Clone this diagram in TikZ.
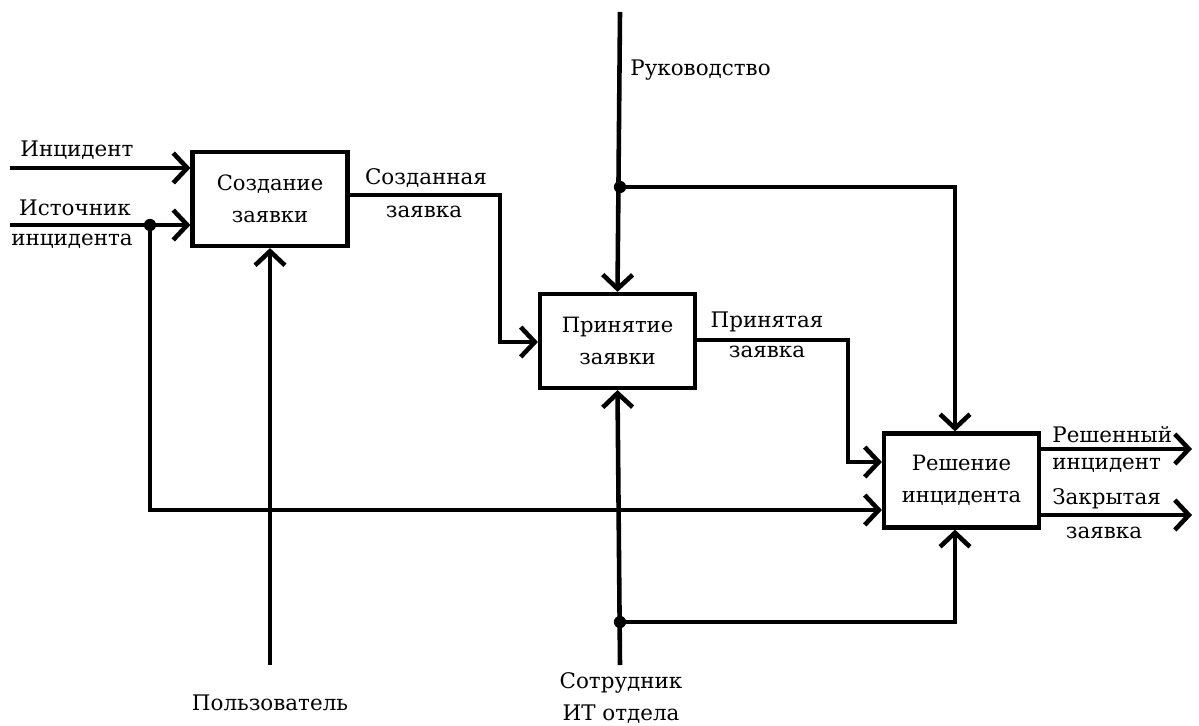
\documentclass[tikz,border=0pt]{standalone}
\usepackage{fontspec}
\setmainfont{DejaVu Serif}
\usetikzlibrary{arrows.meta}
\begin{document}
\begin{tikzpicture}[x=0.02cm,y=-0.02cm,
  box/.style={draw,line width=2.4pt,minimum width=3.1cm,minimum height=1.88cm,align=center,inner sep=0pt,font=\fontsize{12}{18}\selectfont},
  lbl/.style={inner sep=0pt,font=\fontsize{12.2}{17}\selectfont},
  conn/.style={line width=2.6pt},
  arr/.style={conn,-{Straight Barb[length=8pt,width=17pt]}},
  dot/.style={circle,fill,inner sep=0pt,minimum size=7pt}]
\useasboundingbox (0,0) rectangle (1199,726);
% boxes
\node[box] (b1) at (270,199) {Создание\\заявки};
\node[box] (b2) at (617.5,341) {Принятие\\заявки};
\node[box] (b3) at (961.5,480.5) {Решение\\инцидента};
% free ends
\coordinate (inc) at (10,168);
\coordinate (src) at (10,225);
\coordinate (usr) at (270,665);
\coordinate (mgmt) at (620,12);
\coordinate (staff) at (620,665);
\coordinate (o1) at (1192,449);
\coordinate (o2) at (1192,515);
% junctions
\node[dot] (j1) at (150,225) {};
\node[dot] (j2) at (620,187) {};
\node[dot] (j3) at (620,622) {};
% connectors
\draw[arr] (inc) -- (inc -| b1.west);
\draw[arr] (src) -- (src -| b1.west);
\draw[arr] (j1.center) -- (150,510) -- (b3.west |- 0,510);
\draw[arr] (usr) -- (b1.south);
\draw[arr] (b1.east |- 0,195) -- (500,195) -- (500,342) -- (b2.west |- 0,342);
\draw[arr] (mgmt) -- (b2.north);
\draw[arr] (j2.center) -- (955,187) -- (b3.north -| 955,0);
\draw[arr] (b2.east |- 0,340) -- (848,340) -- (848,462) -- (b3.west |- 0,462);
\draw[arr] (staff) -- (b2.south);
\draw[arr] (j3.center) -- (955,622) -- (b3.south -| 955,0);
\draw[arr] (b3.east |- o1) -- (o1);
\draw[arr] (b3.east |- o2) -- (o2);
% labels
\node[lbl,anchor=west] at (20,150) {Инцидент};
\node[lbl] at (75,208) {Источник};
\node[lbl] at (72,241) {инцидента};
\node[lbl] at (426,178) {Созданная};
\node[lbl] at (424,212) {заявка};
\node[lbl] at (767,322) {Принятая};
\node[lbl] at (767,352) {заявка};
\node[lbl,anchor=west] at (630,70) {Руководство};
\node[lbl] at (270,703) {Пользователь};
\node[lbl] at (621,683) {Сотрудник};
\node[lbl] at (621,714) {ИТ отдела};
\node[lbl,anchor=west] at (1052,435) {Решенный};
\node[lbl,anchor=west] at (1052,465) {инцидент};
\node[lbl,anchor=west] at (1052,499) {Закрытая};
\node[lbl] at (1104,533) {заявка};
\end{tikzpicture}
\end{document}
